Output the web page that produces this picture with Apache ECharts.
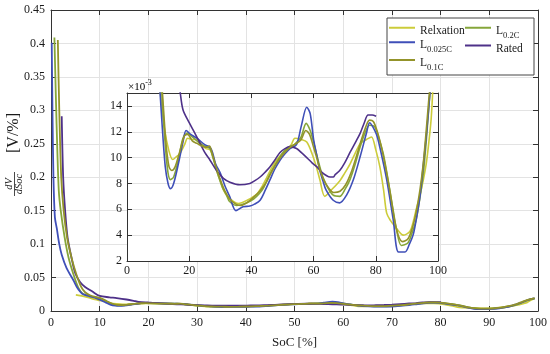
<!DOCTYPE html>
<html><head><meta charset="utf-8">
<script src="https://cdn.jsdelivr.net/npm/echarts@6/dist/echarts.min.js"></script>
<style>html,body{margin:0;padding:0;background:#fff}#c{width:550px;height:354px}</style>
</head><body><div id="c"></div>
<script>
// ---- data: [SoC %, dV/dSoc in V/%] ----
const relaxation = [[5.1,0.024],[6,0.023],[7,0.0215],[8,0.0195],[9,0.0172],[10,0.0158],[10.7,0.015],[12,0.0123],[13.5,0.0105],[14.7,0.00985],[16,0.0101],[17,0.0103],[18.5,0.0110],[19.5,0.0115],[21,0.0114],[22.5,0.0114],[24,0.0110],[25.4,0.0107],[26.7,0.0106],[28,0.0098],[28.8,0.0090],[30,0.0082],[31,0.0075],[32.3,0.0070],[33.7,0.0067],[35.8,0.00645],[38.6,0.0067],[41.8,0.0072],[43.5,0.0078],[45,0.0085],[46.5,0.0092],[48,0.0098],[49.5,0.0102],[51.3,0.0106],[52.8,0.0110],[54,0.0115],[56,0.0114],[57.8,0.0112],[59.5,0.0103],[61,0.0092],[62,0.0083],[63.6,0.0070],[65.7,0.0075],[68.4,0.0082],[70,0.0088],[71.7,0.0095],[73.5,0.0104],[75,0.0111],[77,0.0114],[78.6,0.0116],[80,0.0106],[81.3,0.0093],[82.5,0.0075],[83.5,0.0057],[84.8,0.0051],[86.1,0.0047],[88.9,0.0040],[91,0.0043],[92,0.0050],[93,0.0060],[94.2,0.0071],[95.3,0.0083],[96.2,0.0095],[96.9,0.01085],[97.8,0.0130],[98.5,0.0160],[99.3,0.019]];
const l02c = [[0.7,0.409],[1.0,0.32],[1.3,0.24],[1.6,0.18],[2.0,0.15],[2.8,0.11],[3.6,0.08],[4.6,0.055],[5.6,0.035],[6.5,0.026],[8,0.022],[10,0.019],[11.2,0.015],[12.3,0.011],[13.2,0.0088],[14,0.0083],[15,0.0085],[16.5,0.0098],[18,0.0115],[19.5,0.0119],[21,0.0116],[22.5,0.0113],[24,0.0110],[25.4,0.01085],[26.7,0.0107],[27.5,0.0101],[28.5,0.0093],[29.5,0.0085],[30.7,0.0077],[32,0.0071],[33,0.0066],[35.2,0.0063],[38,0.00645],[40.7,0.0068],[42.5,0.0072],[44,0.0077],[45.5,0.0085],[47.3,0.0093],[49,0.0100],[50.5,0.0105],[52,0.0108],[53.8,0.0110],[55,0.0113],[56,0.0116],[57.6,0.01265],[58.9,0.0121],[60,0.0112],[61,0.0102],[62,0.0093],[63,0.0085],[64.5,0.0077],[66.3,0.0071],[68.4,0.0070],[70,0.0075],[71.7,0.0083],[73.5,0.0096],[75,0.01085],[76.5,0.0119],[78,0.0125],[79.6,0.0124],[81,0.0115],[82.4,0.0103],[83.5,0.0089],[84.5,0.0075],[85.6,0.0059],[86.7,0.0044],[88.2,0.0032],[90.3,0.0034],[91.7,0.0042],[93,0.0052],[94.2,0.0069],[95.3,0.0088],[96.2,0.0112],[96.9,0.0134],[97.5,0.0152],[98.4,0.0175],[99.3,0.019]];
const l0025c = [[0.15,0.401],[0.3,0.3],[0.5,0.2],[0.8,0.14],[1.2,0.123],[1.7,0.1],[2.2,0.084],[3.2,0.064],[4.6,0.046],[5.3,0.036],[6,0.029],[6.6,0.025],[8,0.022],[9.5,0.0185],[10.5,0.0155],[11.3,0.0125],[12.3,0.0093],[13.2,0.0080],[14,0.0076],[15,0.0080],[16.5,0.0095],[18,0.0112],[19,0.0121],[20.5,0.0118],[22.5,0.0115],[25,0.0110],[26.7,0.0108],[27.5,0.0104],[28.5,0.0095],[30,0.0088],[31.5,0.0078],[33,0.0070],[35,0.0059],[37.3,0.0062],[39.5,0.00625],[41,0.0064],[42.8,0.0067],[44.5,0.0075],[46,0.0083],[47.5,0.0091],[49.2,0.0098],[50.8,0.0103],[52.4,0.0107],[54.5,0.0110],[56,0.0124],[57.8,0.0139],[58.9,0.0134],[60,0.0114],[61,0.0102],[62,0.0090],[63,0.0082],[64,0.0075],[66.3,0.0067],[68.4,0.0065],[70.6,0.0071],[72.8,0.0083],[75,0.0101],[77,0.0119],[78,0.0127],[79,0.0124],[80.2,0.0118],[81.3,0.0108],[83.5,0.0083],[85.6,0.0052],[87.3,0.0027],[89.4,0.0027],[90.8,0.0033],[92.1,0.0041],[93.2,0.0055],[94.2,0.0070],[95.3,0.0095],[96.4,0.0121],[97.4,0.0150],[98.3,0.0175],[99.3,0.019]];
const rated = [[2.2,0.291],[2.5,0.2],[2.9,0.15],[3.4,0.11],[4.2,0.08],[5,0.056],[6,0.043],[7,0.036],[8.5,0.029],[10,0.0225],[12,0.0205],[13.5,0.0193],[15.5,0.0172],[17,0.0152],[18,0.0137],[20,0.0127],[21.8,0.0119],[23.5,0.0111],[25,0.0104],[26.7,0.0098],[28.8,0.0090],[31,0.0084],[33.1,0.0081],[36.3,0.0079],[39.5,0.0080],[41,0.0082],[42.8,0.0085],[44.5,0.0089],[46,0.0093],[47.5,0.0098],[49.2,0.0104],[50.8,0.0107],[52.4,0.01085],[54.5,0.0107],[56,0.0104],[57.8,0.0100],[59.5,0.0096],[61,0.0093],[62.5,0.0089],[64.2,0.0086],[65.3,0.0085],[66.3,0.0085],[67,0.0087],[68.4,0.0090],[70,0.0096],[71.7,0.0104],[73.5,0.0112],[75,0.0119],[76.3,0.0127],[77.5,0.0133],[78.8,0.0133],[80.1,0.0132]];
const l01c = [[1.4,0.405],[1.7,0.3],[2.1,0.2],[2.6,0.15],[3.3,0.11],[4.2,0.08],[5.2,0.055],[6.2,0.036],[7,0.028],[8,0.0235],[10,0.0195],[11.4,0.015],[12.5,0.0112],[13.5,0.0093],[14.4,0.0090],[15.5,0.0093],[17,0.0105],[18.5,0.0117],[19.5,0.0118],[21,0.0113],[22.5,0.0111],[24,0.0109],[25.4,0.0108],[26.5,0.0109],[27.3,0.0104],[28.5,0.0094],[30,0.0083],[31.5,0.0074],[33,0.0068],[35,0.0064],[36.5,0.0063],[38.5,0.0065],[41,0.0070],[43,0.0075],[44.8,0.0081],[46.5,0.0089],[48.2,0.0096],[50,0.0102],[51.5,0.0106],[53,0.0109],[54.5,0.0111],[56,0.0114],[57.5,0.0121],[58.7,0.0118],[60,0.0108],[61,0.0100],[62,0.0091],[63.2,0.0083],[65,0.0076],[66.5,0.0073],[68.5,0.0074],[70.3,0.0079],[72,0.0088],[73.5,0.0099],[75,0.0111],[76.5,0.0122],[78,0.0129],[79.2,0.0128],[80.5,0.0120],[82,0.0106],[83.5,0.0088],[84.8,0.0070],[86,0.0052],[87.2,0.0040],[88.6,0.0035],[90.3,0.0037],[91.8,0.0046],[93,0.0058],[94.2,0.0075],[95.2,0.0094],[96,0.0115],[96.7,0.0135],[97.3,0.0152],[98.3,0.0175],[99.3,0.019]];

const seriesNames = ['Relxation', 'L0.2C', 'L0.025C', 'Rated', 'L0.1C'];
const seriesData = [relaxation, l02c, l0025c, rated, l01c];
const seriesColors = ['#cccc3a', '#86a63a', '#3f4fb8', '#4e3189', '#93932a'];
const legendLabels = {'Relxation': '{n|Relxation}', 'L0.2C': '{n|L}{s|0.2C}', 'L0.025C': '{n|L}{s|0.025C}', 'Rated': '{n|Rated}', 'L0.1C': '{n|L}{s|0.1C}'};

const mainX = {min: 0, max: 100, interval: 10};
const mainY = {min: 0, max: 0.45, interval: 0.05};
const insetX = {min: 0, max: 100, interval: 20};
const insetY = {min: 0.002, max: 0.015, interval: 0.002};

const FONT = 'Liberation Serif';
const AX = '#333333', TX = '#1a1a1a', GR = '#e3e3e3';

function axis(kind, grid, pos, range, opts) {
  return Object.assign({
    type: 'value', gridIndex: grid, position: pos,
    min: range.min, max: range.max, interval: range.interval,
    axisLine: {show: true, onZero: false, lineStyle: {color: AX, width: 1}},
    axisTick: {show: true, inside: true, length: 5, lineStyle: {color: AX}},
    axisLabel: {show: false},
    splitLine: {show: false}
  }, opts || {});
}
const lab = (m, extra) => Object.assign({show: true, fontFamily: FONT, fontSize: 12, color: TX, margin: m}, extra || {});

const option = {
  animation: false,
  backgroundColor: '#fff',
  grid: [
    {left: 51, right: 12, top: 10, bottom: 41},
    {left: 127, right: 112, top: 93, bottom: 93, show: true, backgroundColor: '#fff', borderWidth: 0, z: 2}
  ],
  xAxis: [
    axis('x', 0, 'bottom', mainX, {axisLabel: lab(6), splitLine: {show: true, lineStyle: {color: GR}},
      name: 'SoC [%]', nameLocation: 'middle', nameGap: 25, nameTextStyle: {fontFamily: FONT, fontSize: 13, color: TX}}),
    axis('x', 0, 'top', mainX),
    axis('x', 1, 'bottom', insetX, {z: 3, axisLabel: lab(4), splitLine: {show: true, lineStyle: {color: GR}}}),
    axis('x', 1, 'top', insetX, {z: 3})
  ],
  yAxis: [
    axis('y', 0, 'left', mainY, {axisLabel: lab(6), splitLine: {show: true, lineStyle: {color: GR}}}),
    axis('y', 0, 'right', mainY),
    axis('y', 1, 'left', insetY, {z: 3, axisLabel: lab(5, {showMaxLabel: false, formatter: v => String(Math.round(v * 1000))}),
      splitLine: {show: true, lineStyle: {color: GR}}}),
    axis('y', 1, 'right', insetY, {z: 3})
  ],
  legend: [0, 1].map(i => ({
    data: i === 0 ? ['Relxation', 'L0.025C', 'L0.1C'] : ['L0.2C', 'Rated'],
    orient: 'vertical', left: i === 0 ? 389 : 465, top: 18.75, z: 5,
    icon: 'rect', itemWidth: 26, itemHeight: 2, itemGap: -3.5, padding: 0,
    selectedMode: false,
    formatter: name => legendLabels[name],
    textStyle: {
      fontFamily: FONT, fontSize: 11, color: TX,
      rich: {
        n: {fontFamily: FONT, fontSize: 11.5, color: TX, lineHeight: 24.5, padding: [6, 0, 0, 0], verticalAlign: 'middle'},
        s: {fontFamily: FONT, fontSize: 8.5, color: TX, lineHeight: 9, verticalAlign: 'bottom'}
      }
    }
  })),
  graphic: [
    {type: 'rect', z: 4, shape: {x: 387, y: 18, width: 147, height: 57},
      style: {fill: '#fff', stroke: '#444', lineWidth: 1}},
    {type: 'text', z: 5, x: 128, y: 79,
      style: {text: '{a|×10}{b|-3}', rich: {
        a: {fontFamily: FONT, fontSize: 11, color: TX, lineHeight: 17, verticalAlign: 'middle'},
        b: {fontFamily: FONT, fontSize: 8, color: TX, lineHeight: 8, verticalAlign: 'top'}}}},
    {type: 'group', x: 14, y: 158, rotation: Math.PI / 2, children: [
      {type: 'text', x: 25, y: 0, style: {text: '[V/%]', font: '16px "Liberation Serif"', fill: TX, align: 'center', verticalAlign: 'middle'}},
      {type: 'text', x: -26, y: -5, style: {text: 'dV', font: 'italic 10.5px "Liberation Serif"', fill: TX, align: 'center', verticalAlign: 'middle'}},
      {type: 'line', shape: {x1: -38, y1: 0.5, x2: -14, y2: 0.5}, style: {stroke: TX, lineWidth: 0.8}},
      {type: 'text', x: -26, y: 5.5, style: {text: 'dSoc', font: 'italic 10.5px "Liberation Serif"', fill: TX, align: 'center', verticalAlign: 'middle'}}
    ]}
  ],
  series: []
};

seriesNames.forEach((name, i) => {
  option.series.push({
    name, type: 'line', xAxisIndex: 0, yAxisIndex: 0, data: seriesData[i],
    symbol: 'none', smooth: 0.3, z: 2,
    lineStyle: {color: seriesColors[i], width: 1.8}, itemStyle: {color: seriesColors[i]}
  });
});
seriesNames.forEach((name, i) => {
  option.series.push({
    name, type: 'line', xAxisIndex: 2, yAxisIndex: 2, data: seriesData[i],
    symbol: 'none', smooth: 0.3, z: 4, clip: true,
    lineStyle: {color: seriesColors[i], width: 1.6}, itemStyle: {color: seriesColors[i]}
  });
});

echarts.init(document.getElementById('c')).setOption(option);
</script>
</body></html>
